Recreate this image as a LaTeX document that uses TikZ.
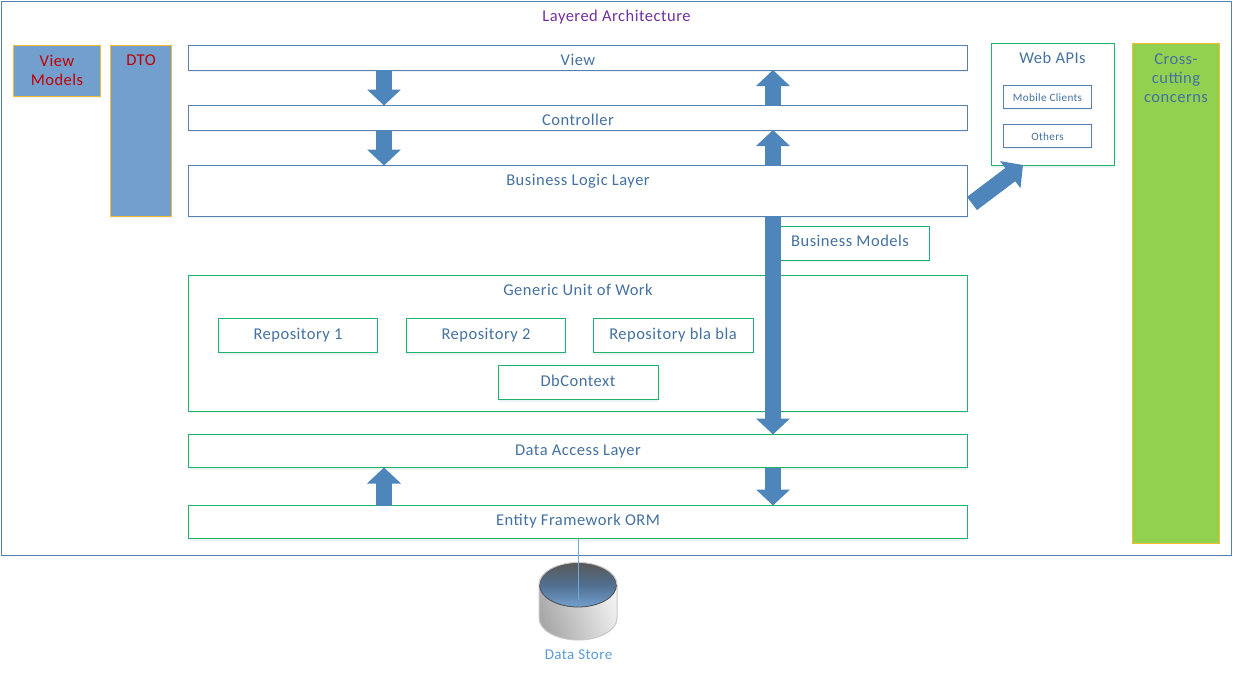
\documentclass[tikz,border=0pt]{standalone}
\usepackage{fontspec}
\setmainfont{Carlito}
\usetikzlibrary{arrows.meta,calc,shadows}
\definecolor{edgeblue}{HTML}{5580B0}
\definecolor{edgegreen}{HTML}{1DB46A}
\definecolor{edgeyellow}{HTML}{F5BD2E}
\definecolor{fillblue}{HTML}{739FCE}
\definecolor{fillgreen}{HTML}{92D050}
\definecolor{arrowblue}{HTML}{4E85BB}
\definecolor{textblue}{HTML}{44719F}
\definecolor{textred}{HTML}{C00000}
\definecolor{textpurple}{HTML}{7030A0}
\definecolor{storeblue}{HTML}{5B9BD5}
\newfontfamily\spaced[LetterSpace=3]{Carlito}
\tikzset{
  x=1pt,y=-1pt,
  softshadow/.style={drop shadow={shadow xshift=0pt,shadow yshift=-2pt,fill=edgeblue,opacity=.1}},
  boxbase/.style={rectangle,inner sep=0pt,outer sep=0pt,line width=1pt,anchor=north west},
  framebox/.style={boxbase,draw=edgeblue,fill=white},
  bluebox/.style={boxbase,draw=edgeblue,fill=white,softshadow},
  greenbox/.style={boxbase,draw=edgegreen,fill=white,softshadow},
  paneblue/.style={boxbase,draw=edgeyellow,fill=fillblue,softshadow},
  panegreen/.style={boxbase,draw=edgeyellow,fill=fillgreen},
  lbl/.style={text=textblue,font=\spaced\fontsize{16.5}{19}\selectfont,inner sep=0pt,align=center,text height=12pt,text depth=2pt},
  multilbl/.style={text=textblue,font=\spaced\fontsize{16.5}{19}\selectfont,inner sep=0pt,align=center},
  smalllbl/.style={text=textblue,font=\spaced\fontsize{11.2}{13}\selectfont,inner sep=0pt,align=center,text height=9pt,text depth=1pt},
  redlbl/.style={multilbl,text=textred},
  fat/.style={draw=arrowblue,line width=16.5pt,-{Triangle[length=16pt,width=33pt,fill=arrowblue]}},
}
% name, style, x0, y0, x1, y1
\newcommand{\boxnode}[6]{%
  \pgfmathsetmacro{\bw}{#5-#3}\pgfmathsetmacro{\bh}{#6-#4}%
  \node[#2,minimum width=\bw pt,minimum height=\bh pt] (#1) at (#3,#4) {};}
\begin{document}
\begin{tikzpicture}
\useasboundingbox (0,0) rectangle (1233,672);
\fill[white] (0,0) rectangle (1233,672);
% frame
\boxnode{frame}{framebox}{1}{1}{1231}{555}
\node[lbl,text=textpurple] (title) at (616.5,16) {Layered Architecture};
% left panes
\boxnode{vm}{paneblue}{13.5}{45.5}{100.5}{96}
\node[redlbl] (vmt) at (57,70) {View\\Models};
\boxnode{dto}{paneblue}{110.5}{45.5}{171}{216}
\node[lbl,text=textred] (dtot) at (141,60.5) {DTO};
% layers
\boxnode{view}{bluebox}{188.5}{45.5}{967.5}{70}
\node[lbl] (viewt) at (578,60.5) {View};
\boxnode{ctrl}{bluebox}{188.5}{105.5}{967.5}{130}
\node[lbl] (ctrlt) at (578,120.5) {Controller};
\boxnode{bll}{bluebox}{188.5}{165.5}{967.5}{216}
\node[lbl] (bllt) at (578,180.5) {Business Logic Layer};
\boxnode{bm}{greenbox}{773}{226.5}{929}{260}
\node[lbl] (bmt) at (850,241.5) {Business Models};
\boxnode{uow}{greenbox}{188.5}{275.5}{967.5}{411}
\node[lbl] (uowt) at (578,290.5) {Generic Unit of Work};
\boxnode{r1}{greenbox}{218.5}{318.5}{377.5}{352.5}
\node[lbl] (r1t) at (298,334) {Repository 1};
\boxnode{r2}{greenbox}{406}{318.5}{565.5}{352.5}
\node[lbl] (r2t) at (486,334) {Repository 2};
\boxnode{r3}{greenbox}{593.5}{318.5}{753}{352.5}
\node[lbl] (r3t) at (673,334) {Repository bla bla};
\boxnode{db}{greenbox}{498.5}{365.5}{658}{399.5}
\node[lbl] (dbt) at (578,381) {DbContext};
\boxnode{dal}{greenbox}{188.5}{434.5}{967.5}{467.5}
\node[lbl] (dalt) at (578,450) {Data Access Layer};
\boxnode{ef}{greenbox}{188.5}{505.5}{967.5}{538.5}
\node[lbl] (eft) at (578,520.5) {Entity Framework ORM};
% web apis
\boxnode{web}{greenbox}{991.5}{43}{1114}{165.5}
\node[lbl] (webt) at (1052.5,58.5) {Web APIs};
\boxnode{mob}{bluebox}{1003.5}{85}{1091}{108}
\node[smalllbl] (mobt) at (1047.5,97) {Mobile Clients};
\boxnode{oth}{bluebox}{1003.5}{124}{1091}{147}
\node[smalllbl] (otht) at (1047.5,136) {Others};
% cross-cutting
\boxnode{cross}{panegreen}{1132.5}{43.5}{1219.5}{543}
\node[multilbl] (crosst) at (1176,78.5) {Cross-\\cutting\\concerns};
% fat arrows
\coordinate (xl) at (384,0);
\coordinate (xr) at (773,0);
\draw[fat] (view.south -| xl) -- (ctrl.north -| xl);
\draw[fat] (ctrl.south -| xl) -- (bll.north -| xl);
\draw[fat] (ctrl.north -| xr) -- (view.south -| xr);
\draw[fat] (bll.north -| xr) -- (ctrl.south -| xr);
\draw[fat] (bll.south -| xr) -- (dal.north -| xr);
\draw[fat] (dal.south -| xr) -- (ef.north -| xr);
\draw[fat] (ef.north -| xl) -- (dal.south -| xl);
\coordinate (bllr) at (972,203.5);
\coordinate (webb) at (1023,165);
\draw[fat] (bllr) -- (webb);
% data store
\shade[left color=black!34,right color=black!4,shading angle=110,draw=black!22,line width=1pt]
  (539,585) -- (539,618) arc[start angle=180,end angle=0,x radius=39,y radius=22]
  -- (617,585) arc[start angle=0,end angle=-180,x radius=39,y radius=22] -- cycle;
\shade[top color=black!65,bottom color=fillblue,middle color=black!30!fillblue,draw=black!70,line width=0.8pt]
  (578,585) ellipse[x radius=38.5,y radius=22];
\draw[black!22,line width=1pt] (539,585) arc[start angle=180,end angle=360,x radius=39,y radius=22.5];
\coordinate (storein) at (578,600);
\draw[storeblue!85!white,line width=0.8pt] (ef.south -| storein) -- (storein);
\node[lbl,text=storeblue,font=\spaced\fontsize{15}{18}\selectfont] (storet) at (578.5,654.5) {Data Store};
\end{tikzpicture}
\end{document}
